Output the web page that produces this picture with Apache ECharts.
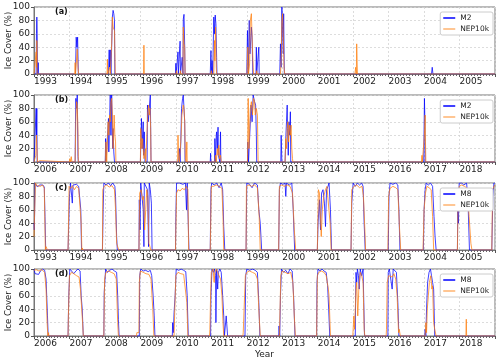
<!DOCTYPE html>
<html>
<head>
<meta charset="UTF-8"/>
<title>Ice cover</title>
<script src="https://cdn.jsdelivr.net/npm/echarts@6/dist/echarts.min.js"></script>
<style>
  html, body { margin: 0; padding: 0; background: #fff; }
  #main { width: 500px; height: 362px; }
</style>
</head>
<body>
<div id="main"></div>
<script type="text/javascript">
// x values are decimal years, y values are ice cover in %
var spanAC = [1993, 2006];
var spanBD = [2006, 2019];
var yTicks = [0, 20, 40, 60, 80, 100];

// (a) M2 vs NEP10k, 1993-2005
var m2A = [[1993.0,0],[1993.06,0],[1993.07,60],[1993.08,85],[1993.09,60],[1993.1,0],[1993.12,17],[1993.13,0],
  [1994.17,0],[1994.19,55],[1994.21,40],[1994.23,55],[1994.25,0],
  [1995.1,0],[1995.12,36],[1995.13,10],[1995.15,36],[1995.17,0],[1995.19,40],[1995.21,85],[1995.23,95],[1995.25,90],[1995.27,80],[1995.28,0],
  [1996.99,0],[1997.0,16],[1997.01,0],[1997.06,33],[1997.07,0],[1997.12,49],[1997.13,0],[1997.18,25],[1997.2,0],[1997.21,82],[1997.23,89],[1997.25,40],[1997.26,0],
  [1997.97,0],[1997.99,35],[1998.0,0],[1998.02,20],[1998.04,0],[1998.07,85],[1998.09,60],[1998.11,88],[1998.13,75],[1998.15,25],[1998.16,0],
  [1999.0,0],[1999.02,65],[1999.04,0],[1999.07,80],[1999.09,30],[1999.13,70],[1999.15,55],[1999.17,0],[1999.26,0],[1999.27,40],[1999.28,0],[1999.33,0],[1999.34,40],[1999.35,0],
  [1999.93,0],[1999.95,45],[1999.97,10],[1999.99,100],[2000.01,100],[2000.03,30],[2000.04,90],[2000.06,0],
  [2004.21,0],[2004.23,10],[2004.25,0],[2006.0,0]];
var nepA = [[1993.0,0],[1993.05,0],[1993.06,33],[1993.07,10],[1993.08,50],[1993.09,0],
  [1994.15,0],[1994.16,17],[1994.17,0],[1994.21,0],[1994.22,37],[1994.24,10],[1994.26,0],
  [1995.06,0],[1995.07,22],[1995.08,0],[1995.13,0],[1995.14,10],[1995.15,0],[1995.18,0],[1995.19,45],[1995.21,85],[1995.23,70],[1995.25,70],[1995.27,65],[1995.29,0],
  [1996.09,0],[1996.1,43],[1996.11,0],
  [1997.0,0],[1997.02,5],[1997.03,0],[1997.12,0],[1997.13,5],[1997.14,0],[1997.2,0],[1997.21,70],[1997.23,45],[1997.25,40],[1997.26,0],
  [1997.99,0],[1998.0,5],[1998.01,0],[1998.07,0],[1998.09,50],[1998.1,20],[1998.12,70],[1998.14,10],[1998.15,0],
  [1999.01,0],[1999.03,40],[1999.05,0],[1999.08,15],[1999.1,80],[1999.13,90],[1999.15,55],[1999.18,10],[1999.19,0],[1999.27,0],[1999.28,5],[1999.29,0],
  [1999.95,0],[1999.97,20],[1999.99,80],[2000.01,90],[2000.03,60],[2000.05,10],[2000.07,0],
  [2002.05,0],[2002.07,10],[2002.09,0],[2002.1,45],[2002.12,0],[2006.0,0]];

// (b) M2 vs NEP10k, 2006-2018
var m2B = [[2006.0,0],[2006.05,0],[2006.06,80],[2006.07,40],[2006.08,80],[2006.09,0],
  [2007.16,0],[2007.17,60],[2007.18,95],[2007.2,80],[2007.22,100],[2007.24,8],[2007.25,0],
  [2008.01,0],[2008.02,35],[2008.03,0],[2008.08,0],[2008.1,65],[2008.11,15],[2008.13,60],[2008.15,100],[2008.17,40],[2008.19,100],[2008.2,100],[2008.22,20],[2008.23,50],[2008.25,15],[2008.27,0],
  [2009.0,0],[2009.03,65],[2009.05,20],[2009.08,60],[2009.09,10],[2009.11,45],[2009.13,0],[2009.19,0],[2009.2,85],[2009.22,60],[2009.25,80],[2009.28,100],[2009.29,100],[2009.3,0],
  [2010.08,0],[2010.1,20],[2010.12,0],[2010.14,30],[2010.16,80],[2010.19,95],[2010.21,100],[2010.23,100],[2010.25,60],[2010.26,0],
  [2010.97,0],[2010.98,13],[2010.99,0],[2011.09,0],[2011.1,35],[2011.12,0],[2011.14,40],[2011.15,45],[2011.17,20],[2011.19,52],[2011.2,10],[2011.24,0],[2011.26,45],[2011.27,0],
  [2012.02,0],[2012.03,30],[2012.05,0],[2012.09,0],[2012.1,60],[2012.12,85],[2012.15,60],[2012.18,100],[2012.2,100],[2012.22,90],[2012.25,85],[2012.27,40],[2012.28,0],
  [2012.96,0],[2012.97,40],[2012.98,38],[2012.99,0],[2013.08,0],[2013.1,35],[2013.12,60],[2013.14,85],[2013.15,50],[2013.17,10],[2013.19,60],[2013.21,40],[2013.23,75],[2013.24,0],
  [2016.99,0],[2017.01,95],[2017.02,70],[2017.03,0],[2019.0,0]];
var nepB = [[2006.0,0],[2006.04,0],[2006.05,10],[2006.07,40],[2006.09,10],[2006.1,0],[2006.15,0],[2006.16,2],[2006.17,0],
  [2007.0,0],[2007.01,5],[2007.03,0],[2007.05,8],[2007.07,0],[2007.16,0],[2007.18,60],[2007.2,90],[2007.22,85],[2007.24,45],[2007.25,0],
  [2008.01,0],[2008.03,30],[2008.05,0],[2008.08,0],[2008.09,60],[2008.11,40],[2008.13,70],[2008.15,60],[2008.17,90],[2008.19,95],[2008.21,70],[2008.23,20],[2008.26,70],[2008.28,40],[2008.3,30],[2008.31,0],
  [2009.0,0],[2009.01,50],[2009.04,20],[2009.06,35],[2009.1,5],[2009.14,20],[2009.15,0],[2009.19,0],[2009.21,75],[2009.23,85],[2009.25,70],[2009.27,80],[2009.29,50],[2009.3,0],
  [2010.05,0],[2010.06,40],[2010.08,5],[2010.1,0],[2010.15,40],[2010.17,70],[2010.21,85],[2010.23,80],[2010.25,60],[2010.27,5],[2010.29,0],[2010.31,30],[2010.32,0],
  [2011.1,0],[2011.12,10],[2011.14,0],[2011.17,20],[2011.19,10],[2011.21,25],[2011.23,5],[2011.26,10],[2011.28,0],
  [2012.02,0],[2012.04,95],[2012.06,20],[2012.08,50],[2012.1,80],[2012.13,90],[2012.16,70],[2012.19,95],[2012.22,90],[2012.24,70],[2012.27,80],[2012.3,70],[2012.32,0],
  [2013.08,0],[2013.1,35],[2013.12,20],[2013.14,50],[2013.16,60],[2013.18,30],[2013.2,55],[2013.23,40],[2013.25,55],[2013.27,20],[2013.29,5],[2013.3,0],
  [2016.93,0],[2016.94,10],[2016.95,0],[2016.99,0],[2017.01,40],[2017.03,70],[2017.04,30],[2017.05,0],[2019.0,0]];

// (c) M8 vs NEP10k, 1993-2005
var m8C = [[1993.0,40],[1993.01,30],[1993.03,100],[1993.06,97],[1993.1,94],[1993.15,97],[1993.2,95],[1993.25,97],[1993.29,94],[1993.31,50],[1993.33,0],
  [1993.96,0],[1993.98,40],[1994.0,80],[1994.03,100],[1994.06,100],[1994.08,70],[1994.1,97],[1994.15,95],[1994.2,98],[1994.26,95],[1994.3,97],[1994.32,60],[1994.34,0],
  [1994.93,0],[1994.95,60],[1994.97,100],[1995.03,97],[1995.1,100],[1995.16,96],[1995.22,100],[1995.28,95],[1995.3,80],[1995.33,20],[1995.35,0],
  [1995.96,0],[1995.97,75],[1995.99,30],[1996.01,100],[1996.06,100],[1996.08,60],[1996.1,5],[1996.11,100],[1996.16,100],[1996.2,90],[1996.23,5],[1996.25,100],[1996.28,90],[1996.31,70],[1996.33,0],
  [1996.99,0],[1997.0,50],[1997.02,100],[1997.1,100],[1997.2,98],[1997.27,100],[1997.3,60],[1997.32,100],[1997.35,100],[1997.37,0],
  [1997.97,0],[1997.99,90],[1998.01,100],[1998.08,97],[1998.15,100],[1998.22,93],[1998.28,100],[1998.32,90],[1998.35,35],[1998.38,0],
  [1998.98,0],[1999.0,100],[1999.08,98],[1999.15,93],[1999.22,100],[1999.3,97],[1999.34,60],[1999.38,40],[1999.42,0],
  [1999.9,0],[1999.92,90],[1999.95,100],[2000.02,98],[2000.08,100],[2000.1,80],[2000.12,100],[2000.2,97],[2000.27,100],[2000.31,60],[2000.35,0],
  [2000.99,0],[2001.01,40],[2001.05,75],[2001.08,30],[2001.11,85],[2001.15,90],[2001.19,70],[2001.22,35],[2001.25,90],[2001.29,95],[2001.32,100],[2001.36,60],[2001.39,0],
  [2001.94,0],[2001.96,70],[2002.0,100],[2002.06,95],[2002.12,100],[2002.18,97],[2002.24,100],[2002.28,95],[2002.31,40],[2002.34,0],
  [2002.99,0],[2003.01,80],[2003.04,100],[2003.12,98],[2003.2,100],[2003.26,97],[2003.29,60],[2003.32,0],
  [2003.98,0],[2004.0,60],[2004.03,90],[2004.06,100],[2004.12,97],[2004.18,100],[2004.24,95],[2004.28,50],[2004.31,20],[2004.34,0],
  [2004.94,0],[2004.95,60],[2004.97,40],[2004.99,100],[2005.06,100],[2005.12,97],[2005.2,100],[2005.24,70],[2005.28,0],
  [2005.91,0],[2005.94,80],[2005.97,100],[2006.0,100]];
var nepC = [[1993.0,20],[1993.02,20],[1993.04,100],[1993.08,96],[1993.12,97],[1993.18,95],[1993.24,97],[1993.29,92],[1993.32,0],[1993.34,5],[1993.37,3],[1993.38,0],
  [1993.96,0],[1993.97,30],[1993.99,95],[1994.04,92],[1994.08,96],[1994.14,90],[1994.2,95],[1994.26,92],[1994.3,90],[1994.33,40],[1994.35,0],[1994.36,3],[1994.38,0],
  [1994.93,0],[1994.94,90],[1994.98,95],[1995.05,97],[1995.12,94],[1995.2,96],[1995.27,90],[1995.3,60],[1995.33,10],[1995.37,10],[1995.39,0],
  [1995.96,0],[1995.98,85],[1996.02,90],[1996.06,75],[1996.09,80],[1996.12,30],[1996.15,60],[1996.18,90],[1996.21,80],[1996.24,10],[1996.27,5],[1996.29,0],
  [1996.99,0],[1997.0,30],[1997.02,85],[1997.06,90],[1997.12,88],[1997.18,92],[1997.24,90],[1997.3,95],[1997.34,90],[1997.36,0],
  [1997.97,0],[1997.98,30],[1998.0,95],[1998.06,95],[1998.14,97],[1998.22,95],[1998.3,92],[1998.33,50],[1998.35,0],
  [1998.98,0],[1998.99,95],[1999.06,97],[1999.14,95],[1999.22,97],[1999.3,93],[1999.35,50],[1999.38,0],
  [1999.9,0],[1999.92,95],[1999.98,97],[2000.06,95],[2000.14,97],[2000.22,95],[2000.29,85],[2000.34,30],[2000.38,0],
  [2000.99,0],[2001.02,90],[2001.05,85],[2001.1,20],[2001.13,60],[2001.17,80],[2001.22,90],[2001.26,95],[2001.31,95],[2001.35,40],[2001.38,0],
  [2001.94,0],[2001.96,90],[2002.02,95],[2002.1,97],[2002.18,93],[2002.25,95],[2002.29,80],[2002.33,30],[2002.35,0],
  [2002.98,0],[2003.0,80],[2003.04,92],[2003.12,95],[2003.2,93],[2003.26,90],[2003.3,40],[2003.34,0],
  [2003.97,0],[2003.98,20],[2004.0,60],[2004.04,85],[2004.08,95],[2004.14,93],[2004.2,90],[2004.24,50],[2004.27,0],
  [2004.94,0],[2004.96,80],[2004.99,95],[2005.06,97],[2005.14,95],[2005.22,92],[2005.27,50],[2005.32,10],[2005.35,0],
  [2005.91,0],[2005.93,90],[2005.97,95],[2006.0,97]];

// (d) M8 vs NEP10k, 2006-2018
var m8D = [[2006.0,100],[2006.03,93],[2006.08,95],[2006.13,92],[2006.18,97],[2006.24,100],[2006.3,98],[2006.34,85],[2006.38,30],[2006.4,0],
  [2006.96,0],[2006.98,60],[2007.01,100],[2007.06,97],[2007.12,93],[2007.18,97],[2007.24,100],[2007.3,97],[2007.33,60],[2007.36,40],[2007.39,0],
  [2007.97,0],[2007.98,65],[2008.02,100],[2008.07,95],[2008.13,98],[2008.2,100],[2008.27,97],[2008.33,95],[2008.36,60],[2008.38,25],[2008.4,0],
  [2008.97,0],[2008.98,90],[2009.01,100],[2009.08,97],[2009.15,98],[2009.22,96],[2009.28,98],[2009.32,90],[2009.36,60],[2009.39,30],[2009.41,0],
  [2009.9,0],[2009.91,20],[2009.93,5],[2009.95,35],[2009.98,60],[2010.01,100],[2010.08,98],[2010.15,100],[2010.22,98],[2010.28,96],[2010.32,60],[2010.35,0],
  [2010.98,0],[2010.99,60],[2011.02,100],[2011.06,95],[2011.09,100],[2011.12,90],[2011.13,20],[2011.15,100],[2011.18,70],[2011.2,95],[2011.24,100],[2011.28,95],[2011.32,60],[2011.35,30],[2011.37,0],[2011.4,0],[2011.42,30],[2011.44,30],[2011.46,0],
  [2011.95,0],[2011.97,90],[2012.0,100],[2012.08,98],[2012.16,100],[2012.24,98],[2012.3,95],[2012.34,50],[2012.37,0],
  [2012.9,0],[2012.91,15],[2012.93,0],[2012.95,60],[2012.98,100],[2013.04,95],[2013.1,98],[2013.16,93],[2013.22,100],[2013.28,97],[2013.32,60],[2013.36,0],
  [2013.97,0],[2013.98,80],[2014.01,100],[2014.06,97],[2014.12,100],[2014.18,97],[2014.24,95],[2014.28,75],[2014.31,40],[2014.34,0],
  [2015.06,0],[2015.07,60],[2015.08,95],[2015.1,80],[2015.12,100],[2015.15,90],[2015.17,70],[2015.2,100],[2015.24,90],[2015.28,100],[2015.3,50],[2015.32,0],
  [2015.98,0],[2015.99,95],[2016.02,100],[2016.07,100],[2016.1,70],[2016.13,100],[2016.18,100],[2016.22,95],[2016.26,50],[2016.29,0],
  [2017.02,0],[2017.03,10],[2017.05,0],[2017.07,40],[2017.1,80],[2017.14,95],[2017.18,100],[2017.21,90],[2017.24,80],[2017.27,70],[2017.3,0],[2019.0,0]];
var nepD = [[2006.0,98],[2006.06,99],[2006.14,97],[2006.22,99],[2006.3,95],[2006.34,70],[2006.37,20],[2006.39,0],[2006.41,5],[2006.42,0],
  [2006.96,0],[2006.97,30],[2007.0,90],[2007.06,95],[2007.12,93],[2007.2,90],[2007.27,88],[2007.31,70],[2007.34,45],[2007.37,20],[2007.39,0],
  [2007.97,0],[2007.99,85],[2008.03,95],[2008.1,97],[2008.18,95],[2008.26,93],[2008.32,85],[2008.36,20],[2008.38,0],
  [2008.89,0],[2008.9,5],[2008.96,5],[2008.97,80],[2009.0,97],[2009.08,95],[2009.16,93],[2009.24,92],[2009.3,85],[2009.35,40],[2009.38,0],
  [2009.95,0],[2009.97,40],[2010.0,90],[2010.06,95],[2010.14,93],[2010.22,92],[2010.27,90],[2010.31,50],[2010.34,0],
  [2010.95,0],[2010.96,10],[2010.98,60],[2011.0,95],[2011.05,100],[2011.08,80],[2011.1,95],[2011.14,100],[2011.18,95],[2011.22,90],[2011.26,85],[2011.3,60],[2011.33,20],[2011.35,0],
  [2011.89,0],[2011.9,5],[2011.94,5],[2011.96,90],[2012.0,95],[2012.08,97],[2012.16,95],[2012.24,93],[2012.3,85],[2012.34,40],[2012.38,0],
  [2012.92,0],[2012.93,20],[2012.96,90],[2013.0,97],[2013.08,95],[2013.16,93],[2013.24,95],[2013.3,80],[2013.34,30],[2013.37,0],
  [2013.97,0],[2013.99,90],[2014.03,95],[2014.1,97],[2014.18,95],[2014.24,90],[2014.27,80],[2014.3,70],[2014.32,60],[2014.34,30],[2014.36,0],
  [2014.99,0],[2015.0,10],[2015.02,30],[2015.04,10],[2015.06,40],[2015.08,70],[2015.1,80],[2015.13,30],[2015.16,70],[2015.2,95],[2015.24,90],[2015.28,80],[2015.31,10],[2015.33,0],
  [2015.93,0],[2015.94,10],[2015.96,80],[2016.0,90],[2016.05,92],[2016.1,88],[2016.15,93],[2016.2,85],[2016.24,60],[2016.28,5],[2016.3,10],[2016.33,0],
  [2017.03,0],[2017.05,20],[2017.07,5],[2017.09,40],[2017.12,60],[2017.15,80],[2017.19,90],[2017.22,70],[2017.24,75],[2017.27,20],[2017.3,10],[2017.34,0],
  [2018.18,0],[2018.19,25],[2018.2,0],[2019.0,0]];

var FONT = 'DejaVu Sans';
var BLUE = '#0000ff';
var ORANGE = '#ff7f0e';

var panels = [
  {tag: '(a)', top: 7,   span: spanAC, obs: 'M2', o: m2A, n: nepA},
  {tag: '(b)', top: 95,  span: spanBD, obs: 'M2', o: m2B, n: nepB},
  {tag: '(c)', top: 183, span: spanAC, obs: 'M8', o: m8C, n: nepC},
  {tag: '(d)', top: 269, span: spanBD, obs: 'M8', o: m8D, n: nepD}
];

var grid = [], xAxis = [], yAxis = [], series = [], legend = [], graphic = [];
panels.forEach(function(p, i){
  grid.push({left: 34, right: 5, top: p.top, height: 67, show: true, borderColor: '#777', borderWidth: 1,
    containLabel: false, outerBoundsMode: 'none'});
  xAxis.push({
    type: 'value', gridIndex: i, min: p.span[0], max: p.span[1], interval: 1,
    axisLine: {show: true, lineStyle: {color: '#777'}},
    axisTick: {show: true, length: 3, lineStyle: {color: '#555'}},
    minorTick: {show: true, splitNumber: 12, length: 2, lineStyle: {color: '#666'}},
    splitLine: {show: true, lineStyle: {color: '#d4d4d4', type: [2, 2], width: 0.8}},
    axisLabel: {fontFamily: FONT, fontSize: 9, color: '#222', margin: 3, align: 'left',
      showMaxLabel: false, hideOverlap: false, formatter: function(v){ return String(v); }},
    name: i === 3 ? 'Year' : '', nameLocation: 'middle', nameGap: 14, nameMoveOverlap: false,
    nameTextStyle: {fontFamily: FONT, fontSize: 9, color: '#222'}
  });
  yAxis.push({
    type: 'value', gridIndex: i, min: yTicks[0], max: yTicks[yTicks.length - 1], interval: 20,
    axisLine: {show: true, lineStyle: {color: '#777'}},
    axisTick: {show: true, length: 3, lineStyle: {color: '#555'}},
    splitLine: {show: true, lineStyle: {color: '#d4d4d4', type: [2, 2], width: 0.8}},
    axisLabel: {fontFamily: FONT, fontSize: 9, color: '#222', margin: 4},
    name: 'Ice Cover (%)', nameLocation: 'middle', nameGap: 21, nameMoveOverlap: false,
    nameTextStyle: {fontFamily: FONT, fontSize: 8.5, color: '#222'}
  });
  series.push({
    name: p.obs, type: 'line', xAxisIndex: i, yAxisIndex: i, data: p.o,
    showSymbol: false, symbol: 'none', animation: false, z: 2,
    lineStyle: {color: BLUE, width: 1, opacity: 0.75}, itemStyle: {color: BLUE}
  });
  series.push({
    name: 'NEP10k', type: 'line', xAxisIndex: i, yAxisIndex: i, data: p.n,
    showSymbol: false, symbol: 'none', animation: false, z: 3,
    lineStyle: {color: ORANGE, width: 1, opacity: 0.75}, itemStyle: {color: ORANGE, opacity: 0.6}
  });
  legend.push({
    data: [p.obs, 'NEP10k'], orient: 'vertical', right: 7, top: p.top + 5,
    icon: 'rect', itemWidth: 12, itemHeight: 1.5, itemGap: 3,
    padding: [2, 4, 2, 3], borderColor: '#ccc', borderWidth: 1, borderRadius: 2,
    backgroundColor: '#fff', selectedMode: false,
    textStyle: {fontFamily: FONT, fontSize: 7.5, color: '#222'}
  });
  graphic.push({type: 'text', left: 55, top: p.top + 1,
    style: {text: p.tag, font: 'bold 8px ' + FONT, fill: '#111'}});
});

var myChart = echarts.init(document.getElementById('main'), null, {renderer: 'canvas'});
myChart.setOption({
  animation: false,
  backgroundColor: '#fff',
  grid: grid, xAxis: xAxis, yAxis: yAxis,
  legend: legend, series: series, graphic: graphic
});
</script>
</body>
</html>
